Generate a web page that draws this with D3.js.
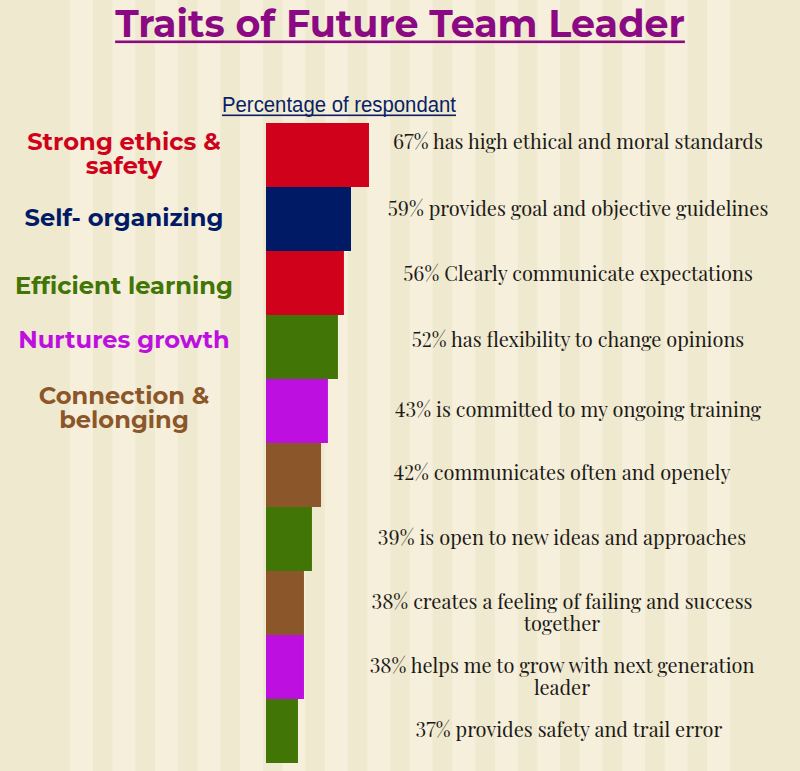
<!DOCTYPE html>
<html>
<head>
<meta charset="utf-8">
<script src="https://cdn.jsdelivr.net/npm/d3@7"></script>
<style>
  html, body { margin: 0; padding: 0; background: #efe9cf; }
  svg { display: block; }
</style>
</head>
<body>
<div id="chart"></div>
<script>
// traits (left column) and their colours
const traitLines = [
  ["Strong ethics &", "safety"],
  ["Self- organizing"],
  ["Efficient learning"],
  ["Nurtures growth"],
  ["Connection &", "belonging"],
];
const traitColors = ["#d0021b", "#001a66", "#417505", "#bd10e0", "#8b572a"];

// one row per statement
const percents = [67, 59, 56, 52, 43, 42, 39, 38, 38, 37];
const statementLines = [
  ["has high ethical and moral standards"],
  ["provides goal and objective guidelines"],
  ["Clearly communicate expectations"],
  ["has flexibility to change opinions"],
  ["is committed to my ongoing training"],
  ["communicates often and openely"],
  ["is open to new ideas and approaches"],
  ["creates a feeling of failing and success", "together"],
  ["helps me to grow with next generation", "leader"],
  ["provides safety and trail error"],
];
// bar lengths as drawn (0-100 axis)
const barValues = [67, 55.3, 50.7, 46.8, 40.3, 35.8, 29.9, 24.7, 24.7, 20.8];
// which trait colours each bar
const barTrait = [0, 1, 0, 2, 3, 4, 2, 4, 3, 2];

window.addEventListener("load", () => {
  const width = 800;
  const height = 771;

  const bgDark = "#efe9cf";
  const bgLight = "#f5efdb";
  const titleColor = "#8b0a83";
  const subColor = "#0a1f66";
  const textColor = "#1c1a17";

  const sansBold = "Montserrat, 'DejaVu Sans', sans-serif";
  const serif = "'Playfair Display', 'Liberation Serif', serif";

  // layout
  const rowLabelCx = [578, 578, 578, 578, 578, 562, 562, 562, 562, 569];
  const rowLabelDy = [26, 29, 30, 32, 38, 37, 38, 38, 38, 38];
  const traitCx = 124;
  const traitY = [[150, 174], [226], [294], [348], [404, 428]];

  const svg = d3.select("#chart")
    .append("svg")
    .attr("width", width)
    .attr("height", height);

  // striped background
  svg.append("rect")
    .attr("width", width)
    .attr("height", height)
    .attr("fill", bgDark);
  svg.append("g")
    .selectAll("rect")
    .data(d3.range(16))
    .join("rect")
    .attr("x", (d) => 70 + d * 42.47)
    .attr("y", 0)
    .attr("width", 23)
    .attr("height", height)
    .attr("fill", bgLight);

  function fitSize(sel, target) {
    const w = sel.node().getComputedTextLength();
    const size = parseFloat(sel.attr("font-size"));
    return (size * target) / w;
  }

  // title
  const title = svg.append("text")
    .attr("x", width / 2)
    .attr("y", 37)
    .attr("text-anchor", "middle")
    .attr("font-family", sansBold)
    .attr("font-weight", "bold")
    .attr("font-size", 38)
    .attr("fill", titleColor)
    .text("Traits of Future Team Leader");
  title.attr("font-size", fitSize(title, 570));
  const tb = title.node().getBBox();
  svg.append("rect")
    .attr("x", tb.x)
    .attr("y", 40.5)
    .attr("width", tb.width)
    .attr("height", 2.6)
    .attr("fill", titleColor);

  // subtitle, narrow face squeezed to the width seen
  svg.append("text")
    .attr("x", 222)
    .attr("y", 112)
    .attr("font-family", "'Liberation Sans Narrow', 'Liberation Sans', sans-serif")
    .attr("font-size", 22)
    .attr("textLength", 234)
    .attr("lengthAdjust", "spacingAndGlyphs")
    .attr("fill", subColor)
    .text("Percentage of respondant");
  svg.append("rect")
    .attr("x", 222)
    .attr("y", 114.5)
    .attr("width", 234)
    .attr("height", 1.6)
    .attr("fill", subColor);

  // scales
  const y = d3.scaleBand()
    .domain(d3.range(percents.length))
    .range([123, 763])
    .padding(0);
  const x = d3.scaleLinear()
    .domain([0, 100])
    .range([266, 266 + 153.7]);

  svg.append("g")
    .selectAll("rect")
    .data(barValues)
    .join("rect")
    .attr("x", x(0))
    .attr("y", (d, i) => y(i))
    .attr("width", (d) => x(d) - x(0))
    .attr("height", y.bandwidth())
    .attr("fill", (d, i) => traitColors[barTrait[i]]);

  // trait labels on the left
  const probe = svg.append("text")
    .attr("font-family", sansBold)
    .attr("font-weight", "bold")
    .attr("font-size", 22)
    .text("Efficient learning");
  const traitSize = fitSize(probe, 218);
  probe.remove();

  traitLines.forEach((lines, t) => {
    lines.forEach((line, j) => {
      svg.append("text")
        .attr("x", traitCx)
        .attr("y", traitY[t][j])
        .attr("text-anchor", "middle")
        .attr("font-family", sansBold)
        .attr("font-weight", "bold")
        .attr("font-size", traitSize)
        .attr("fill", traitColors[t])
        .text(line);
    });
  });

  // statement labels on the right
  const probe2 = svg.append("text")
    .attr("font-family", serif)
    .attr("font-size", 19)
    .style("font-variant-numeric", "lining-nums")
    .text(`${percents[0]}% ${statementLines[0][0]}`);
  const labelSize = fitSize(probe2, 370);
  probe2.remove();

  statementLines.forEach((lines, i) => {
    lines.forEach((line, j) => {
      svg.append("text")
        .attr("x", rowLabelCx[i])
        .attr("y", y(i) + rowLabelDy[i] + j * 22)
        .attr("text-anchor", "middle")
        .attr("font-family", serif)
        .attr("font-size", labelSize)
        .style("font-variant-numeric", "lining-nums")
        .attr("fill", textColor)
        .text(j === 0 ? `${percents[i]}% ${line}` : line);
    });
  });
});
</script>
</body>
</html>
